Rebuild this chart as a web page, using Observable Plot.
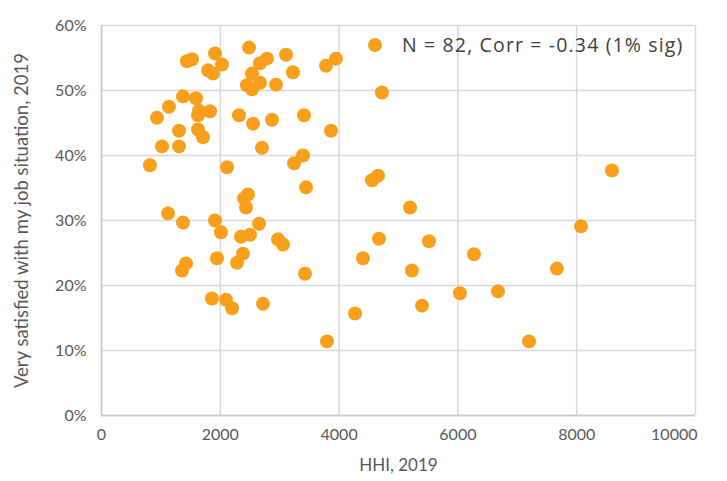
<!DOCTYPE html>
<html>
<head>
<meta charset="utf-8">
<script src="https://cdn.jsdelivr.net/npm/d3@7"></script>
<script src="https://cdn.jsdelivr.net/npm/@observablehq/plot@0.6"></script>
<style>
  html, body { margin: 0; padding: 0; background: #fff; }
  #chart { position: relative; width: 727px; height: 481px; }
  #legend { position: absolute; left: 368px; top: 31px; font-family: "Open Sans", Lato, sans-serif; font-size: 19.5px; letter-spacing: 1.15px; color: #404040; display: flex; align-items: center; white-space: nowrap; }
  #legend .sw { width: 14px; height: 14px; border-radius: 50%; background: #f8a01c; margin-right: 20px; }
</style>
</head>
<body>
<div id="chart"></div>
<script>
// HHI, 2019
const hhi = [816, 934, 1019, 1120, 1136, 1305, 1305, 1372, 1372, 1355, 1423, 1439, 1524, 1591, 1641, 1625, 1625, 1709, 1827, 1793, 1877, 1911, 1911, 1944, 2012, 1860, 2029, 2113, 2096, 2197, 2315, 2281, 2348, 2382, 2399, 2466, 2433, 2449, 2483, 2534, 2534, 2500, 2551, 2668, 2702, 2786, 2652, 2668, 2719, 2870, 2938, 2971, 3056, 3106, 3224, 3241, 3392, 3409, 3443, 3426, 3779, 3864, 3948, 3796, 4268, 4402, 4722, 4554, 4655, 4672, 5194, 5227, 5396, 5513, 6035, 6271, 6675, 7197, 7668, 8072, 8594];
// Very satisfied with my job situation, 2019 (share)
const satisfied = [0.385, 0.458, 0.414, 0.311, 0.475, 0.438, 0.414, 0.491, 0.297, 0.223, 0.234, 0.545, 0.548, 0.488, 0.469, 0.462, 0.440, 0.428, 0.468, 0.531, 0.526, 0.557, 0.300, 0.242, 0.282, 0.180, 0.540, 0.382, 0.178, 0.165, 0.462, 0.235, 0.275, 0.249, 0.334, 0.340, 0.320, 0.508, 0.566, 0.526, 0.502, 0.278, 0.449, 0.542, 0.412, 0.549, 0.295, 0.512, 0.172, 0.455, 0.509, 0.271, 0.263, 0.555, 0.528, 0.388, 0.400, 0.462, 0.351, 0.218, 0.538, 0.438, 0.549, 0.114, 0.157, 0.242, 0.497, 0.362, 0.369, 0.272, 0.320, 0.223, 0.169, 0.268, 0.188, 0.248, 0.191, 0.114, 0.226, 0.291, 0.377];
const xTicks = [0, 2000, 4000, 6000, 8000];
const xLastTick = [10000];
const yTicks = [0, 0.1, 0.2, 0.3, 0.4, 0.5, 0.6];
const xTitle = "HHI, 2019";
const yTitle = "Very satisfied with my job situation, 2019";
const legendText = "N = 82, Corr = -0.34 (1% sig)";

const data = hhi.map((x, i) => ({x, y: satisfied[i]}));
const grid = "#d9d9d9";
const font = "Lato, 'Open Sans', sans-serif";

const plot = Plot.plot({
  width: 727,
  height: 481,
  marginLeft: 101,
  marginRight: 32,
  marginTop: 25,
  marginBottom: 66,
  style: {fontFamily: font, fontSize: "16px", color: "#595959", background: "#fff"},
  x: {domain: [0, 10000]},
  y: {domain: [0, 0.6]},
  marks: [
    Plot.gridX([...xTicks, ...xLastTick], {stroke: grid, strokeOpacity: 1, strokeWidth: 1.5}),
    Plot.gridY(yTicks, {stroke: grid, strokeOpacity: 1, strokeWidth: 1.5}),
    Plot.ruleY([0], {stroke: "#c8c8c8", strokeWidth: 1.5}),
    Plot.ruleX([0], {stroke: "#c8c8c8", strokeWidth: 1.5}),
    Plot.axisX(xTicks, {tickSize: 0, tickPadding: 13, tickFormat: d3.format("d"), label: null, fill: "#595959"}),
    Plot.axisX(xLastTick, {tickSize: 0, tickPadding: 13, tickFormat: d3.format("d"), label: null, textAnchor: "end", dx: 2, fill: "#595959"}),
    Plot.axisY(yTicks, {tickSize: 0, tickPadding: 15, tickFormat: d3.format(".0%"), label: null, fill: "#595959"}),
    Plot.text([xTitle], {frameAnchor: "bottom", dy: 55, fontSize: 17, fill: "#595959"}),
    Plot.text([yTitle], {frameAnchor: "left", textAnchor: "middle", dx: -79, rotate: -90, fontSize: 18.5, fill: "#595959"}),
    Plot.dot(data, {x: "x", y: "y", r: 7, fill: "#f8a01c", stroke: "none"})
  ]
});
const chart = document.getElementById("chart");
chart.appendChild(plot);
const lg = document.createElement("div");
lg.id = "legend";
lg.innerHTML = '<span class="sw"></span><span></span>';
lg.lastChild.textContent = legendText;
chart.appendChild(lg);
</script>
</body>
</html>
